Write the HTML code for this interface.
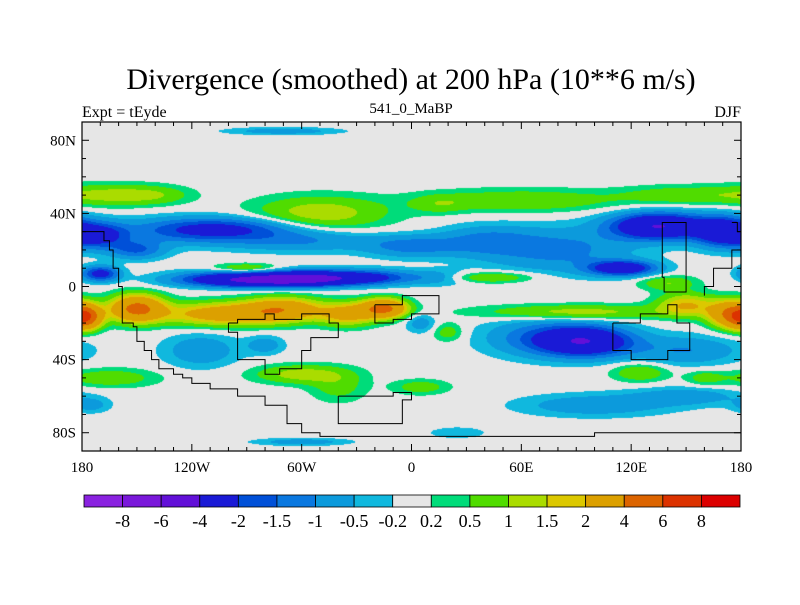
<!DOCTYPE html>
<html><head><meta charset="utf-8"><style>
body{margin:0;background:#fff;}
#wrap{position:relative;width:800px;height:600px;font-family:"Liberation Serif",serif;}
</style></head><body>
<div id="wrap">
<svg id="svg" width="800" height="600" xmlns="http://www.w3.org/2000/svg">
<text x="411" y="89" font-size="30" text-anchor="middle" font-family="Liberation Serif,serif">Divergence (smoothed) at 200 hPa (10**6 m/s)</text>
<text x="82" y="117" font-size="16" font-family="Liberation Serif,serif">Expt = tEyde</text>
<text x="411" y="113" font-size="15" text-anchor="middle" font-family="Liberation Serif,serif">541_0_MaBP</text>
<text x="741" y="117" font-size="16" text-anchor="end" font-family="Liberation Serif,serif">DJF</text>
<foreignObject x="82" y="122" width="659" height="329"><canvas id="cv" width="659" height="329" xmlns="http://www.w3.org/1999/xhtml"></canvas></foreignObject>
<g id="coast"></g>
<g id="axes"></g>
<g id="cbar"></g>
</svg>
</div>
<script>
// level boundaries and colours
const levels=[-8,-6,-4,-2,-1.5,-1,-0.5,-0.2,0.2,0.5,1,1.5,2,4,6,8];
const levelLabels=["-8","-6","-4","-2","-1.5","-1","-0.5","-0.2","0.2","0.5","1","1.5","2","4","6","8"];
const colors=["#8a22e0","#7a18da","#6210d8","#1a1ad6","#0050d8","#0a78e0","#0c9adc","#10b8de","#e6e6e6","#00dc7a","#50dc00","#aadc00","#dcc800","#dca000","#dc6400","#dc3200","#dc0000"];
// field components: lon, lat, amplitude, lon-width, lat-width
const blobLon=[-70,-165,-140,-50,60,150,15,-170,-120,-60,0,40,135,170,115,80,-55,-100,-170,-20,15,-90,40,-150,-178,-100,-70,-15,-35,90,175,150,140,95,70,150,-165,-60,-115,-40,5,125,160,100,150,-175,-60,25,-80,20,5,-100,-150,-80];
const blobLat=[85,50,50,40,47,50,45,28,30,25,22,25,33,30,10,20,5,5,7,5,5,10,5,-12,-17,-15,-12,-12,-15,-14,-15,-10,2,-30,-28,-35,-50,-48,-35,-55,-55,-47,-50,-65,-60,-65,-85,-80,-32,-25,-20,32,20,3];
const blobAmp=[-0.8,1.0,0.8,1.4,1.0,0.9,0.6,-2.2,-1.2,-1.0,-1.2,-1.0,-4,-3,-3,-1.2,-3.5,-1.5,-2.5,-1.5,-1,1.2,1.2,4.5,4.5,3,2.8,4.5,2.5,1.3,4,2,1.0,-3.5,-1.2,-1.0,0.9,1.3,-0.9,0.7,0.8,1.0,0.7,-0.9,-0.8,-0.7,-0.8,-0.5,-0.8,0.8,-0.8,-1.5,-1.5,-3];
const blobSx=[30,25,20,35,50,35,15,15,40,40,25,25,25,15,18,40,30,30,10,20,20,18,25,14,8,35,20,12,15,50,12,15,15,25,30,30,25,25,20,15,15,15,10,40,30,10,25,15,10,8,8,40,15,40];
const blobSy=[2,6,5,9,6,5,5,7,7,6,6,8,7,8,4,12,4,4,4,4,4,2.5,3,7,6,6,6,5,6,4,7,6,4,8,10,8,5,5,9,8,4,5,4,6,5,4,2,3,5,5,5,6,5,3.5];
const latTicks=[80,40,0,-40,-80], latTickLabels=["80N","40N","0","40S","80S"];
const lonTicks=[-180,-120,-60,0,60,120,180], lonTickLabels=["180","120W","60W","0","60E","120E","180"];
const X0=82,X1=741,Y0=122,Y1=451;
const xs=lon=>X0+(lon+180)/360*(X1-X0);
const ys=lat=>Y0+(90-lat)/180*(Y1-Y0);
const NS="http://www.w3.org/2000/svg";
function mk(tag,attrs,parent){const e=document.createElementNS(NS,tag);for(const k in attrs)e.setAttribute(k,attrs[k]);parent.appendChild(e);return e;}
function field(lon,lat){let v=0;for(let i=0;i<blobLon.length;i++){let dx=lon-blobLon[i];if(dx>180)dx-=360;if(dx<-180)dx+=360;const dy=lat-blobLat[i];v+=blobAmp[i]*Math.exp(-((dx/blobSx[i])**2+(dy/blobSy[i])**2));}return v;}
function colorIdx(v){let k=0;while(k<levels.length&&v>=levels[k])k++;return k;}
function hex(c){return [parseInt(c.slice(1,3),16),parseInt(c.slice(3,5),16),parseInt(c.slice(5,7),16)];}
const rgb=colors.map(hex);
const cv=document.getElementById('cv'),ctx=cv.getContext('2d');
const W=cv.width,H=cv.height,img=ctx.createImageData(W,H);
for(let py=0;py<H;py++){const lat=90-(py+0.5)/H*180;for(let px=0;px<W;px++){const lon=-180+(px+0.5)/W*360;const c=rgb[colorIdx(field(lon,lat))];const o=(py*W+px)*4;img.data[o]=c[0];img.data[o+1]=c[1];img.data[o+2]=c[2];img.data[o+3]=255;}}
ctx.putImageData(img,0,0);
// coastlines (rough)
const coastShapes=[
[[-180,30],[-172,30],[-168,25],[-165,20],[-163,10],[-160,0],[-158,-20],[-152,-22],[-150,-30],[-146,-35],[-142,-40],[-138,-45],[-130,-48],[-125,-50],[-120,-53],[-110,-56],[-95,-60],[-80,-65],[-68,-75],[-60,-80],[-50,-82],[0,-82],[60,-82],[100,-80],[120,-80],[180,-80]],
[[-100,-20],[-95,-18],[-80,-15],[-75,-18],[-60,-15],[-45,-20],[-40,-28],[-55,-35],[-60,-45],[-72,-48],[-80,-40],[-95,-25],[-100,-20]],
[[-20,-10],[-5,-5],[10,-5],[15,-15],[0,-18],[-10,-20],[-20,-10]],
[[-40,-60],[-10,-58],[0,-62],[-5,-75],[-40,-72],[-40,-60]],
[[110,-20],[125,-15],[140,-10],[145,-20],[152,-25],[152,-35],[140,-40],[120,-35],[110,-30],[110,-20]],
[[137,5],[138,-3],[145,-3],[150,20],[150,35],[138,35],[137,5]],
[[175,35],[178,30],[180,20],[175,10],[165,0],[160,-5]]];
const coast=document.getElementById('coast');
coastShapes.forEach((s,i)=>{let d='';s.forEach((p,j)=>{if(j===0)d+='M'+xs(p[0])+' '+ys(p[1]);else{d+='H'+xs(p[0])+'V'+ys(p[1]);}});const e=mk('path',{d:d,fill:'none',stroke:'#000','stroke-width':1},coast);

});
// axes
const ax=document.getElementById('axes');
const fr=mk('rect',{x:X0,y:Y0,width:X1-X0,height:Y1-Y0,fill:'none',stroke:'#000','stroke-width':1.2},ax);


for(let lon=-180;lon<=180;lon+=10){const maj=lon%60===0;const L=maj?7:4;const x=xs(lon);mk('line',{x1:x,x2:x,y1:Y0,y2:Y0+L,stroke:'#000'},ax);mk('line',{x1:x,x2:x,y1:Y1,y2:Y1-L,stroke:'#000'},ax);}
for(let lat=-90;lat<=90;lat+=10){const maj=lat%40===0;const L=maj?7:4;const y=ys(lat);mk('line',{x1:X0,x2:X0+L,y1:y,y2:y,stroke:'#000'},ax);mk('line',{x1:X1,x2:X1-L,y1:y,y2:y,stroke:'#000'},ax);}
lonTicks.forEach((v,i)=>{const t=mk('text',{x:xs(v),y:472,'font-size':15,'text-anchor':'middle','font-family':'Liberation Serif,serif'},ax);t.textContent=lonTickLabels[i];

});
latTicks.forEach((v,i)=>{const t=mk('text',{x:76,y:ys(v)+5,'font-size':15,'text-anchor':'end','font-family':'Liberation Serif,serif'},ax);t.textContent=latTickLabels[i];

});
// colorbar
const cb=document.getElementById('cbar');const cx0=84,cx1=740,cy=495,ch=12,bw=(cx1-cx0)/colors.length;
colors.forEach((c,i)=>{const r=mk('rect',{x:cx0+i*bw,y:cy,width:bw,height:ch,fill:c,stroke:'#000','stroke-width':0.8},cb);

});
levelLabels.forEach((l,i)=>{const t=mk('text',{x:cx0+(i+1)*bw,y:527,'font-size':18,'text-anchor':'middle','font-family':'Liberation Serif,serif'},cb);t.textContent=l;

});
</script>
</body></html>
